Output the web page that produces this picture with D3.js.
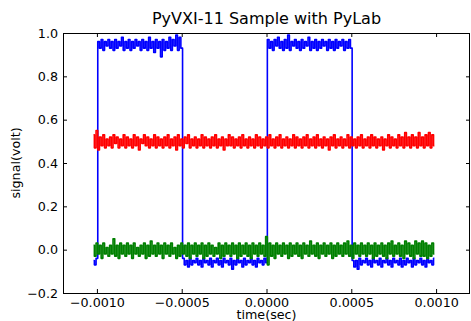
<!DOCTYPE html>
<html>
<head>
<meta charset="utf-8">
<script src="https://cdn.jsdelivr.net/npm/d3@7"></script>
<style>
  html, body { margin: 0; padding: 0; background: #fff; }
  svg { display: block; font-family: 'DejaVu Sans', sans-serif; }
</style>
</head>
<body>
<svg id="chart"></svg>
<script>
// scope record: first sample time and sample interval (sec)
const t0 = -0.00102;
const dt = 0.00001;

const xTicks = [-0.001, -0.0005, 0, 0.0005, 0.001];
const yTicks = [-0.2, 0, 0.2, 0.4, 0.6, 0.8, 1.0];

// channel 1: square wave
const blue = [
  -.05,-.07,-.04,
  .96,.93,.97,.92,.96,.94,.97,.93,.96,.92,
  .97,.93,.96,.94,.98,.92,.96,.93,.97,.92,
  .96,.93,.97,.94,.96,.92,.97,.93,.96,.92,
  .98,.93,.96,.91,.97,.93,.96,.89,.97,.92,
  .96,.93,.98,.92,.97,.94,.99,.92,.98,.93,
  -.04,-.07,-.05,-.08,-.04,-.07,-.05,-.06,-.04,-.07,
  -.05,-.08,-.04,-.06,-.05,-.07,-.04,-.08,-.05,-.06,
  -.04,-.07,-.05,-.08,-.04,-.06,-.05,-.07,-.04,-.09,
  -.05,-.07,-.04,-.06,-.05,-.08,-.04,-.07,-.05,-.06,
  -.04,-.07,-.05,-.08,-.04,-.06,-.05,-.07,-.04,-.06,
  .97,.93,.96,.92,.97,.94,.98,.93,.96,.92,
  .97,.93,.99,.92,.96,.94,.97,.93,.96,.92,
  .97,.93,.96,.94,.98,.92,.96,.93,.97,.92,
  .96,.93,.97,.94,.96,.92,.97,.93,.96,.92,
  .97,.93,.96,.94,.97,.92,.96,.93,.97,.93,
  -.05,-.08,-.05,-.09,-.04,-.07,-.05,-.06,-.04,-.07,
  -.05,-.08,-.04,-.06,-.05,-.07,-.04,-.08,-.05,-.06,
  -.04,-.07,-.05,-.08,-.04,-.06,-.05,-.07,-.04,-.08,
  -.05,-.07,-.04,-.06,-.05,-.08,-.04,-.07,-.05,-.06,
  -.04,-.07,-.05,-.08,-.04,-.06,-.05,-.07,-.04
];

// channel 2: dc level ~0.5 V
const red = [
  .53,.47,.55,.46,.52,.48,.53,.47,.51,.48,.52,.47,.53,.49,.52,.47,.51,.48,.53,.47,
  .52,.48,.51,.47,.53,.48,.52,.46,.51,.49,.53,.48,.52,.47,.51,.48,.53,.47,.52,.48,
  .51,.47,.52,.48,.53,.47,.51,.48,.52,.46,.53,.48,.51,.47,.52,.49,.53,.47,.51,.48,
  .52,.47,.51,.48,.53,.47,.52,.48,.51,.47,.52,.48,.53,.47,.51,.48,.52,.46,.51,.48,
  .53,.48,.52,.47,.51,.48,.52,.47,.53,.48,.51,.47,.52,.48,.51,.47,.53,.48,.52,.47,
  .51,.48,.52,.47,.53,.48,.51,.47,.52,.48,.53,.47,.51,.48,.52,.47,.51,.48,.53,.47,
  .52,.48,.51,.47,.52,.48,.53,.47,.51,.48,.52,.47,.53,.48,.51,.47,.52,.48,.51,.46,
  .52,.48,.53,.47,.51,.48,.52,.47,.51,.48,.53,.47,.52,.48,.51,.47,.52,.48,.53,.47,
  .51,.48,.52,.47,.53,.48,.52,.47,.51,.48,.52,.46,.51,.48,.53,.47,.52,.48,.51,.47,
  .53,.48,.52,.47,.54,.48,.52,.47,.53,.48,.52,.47,.54,.48,.52,.47,.53,.48,.54,.47,
  .53,.48
];

// channel 3: ground ~0 V
const green = [
  .02,-.03,.03,-.02,.02,-.04,.03,-.02,.01,-.03,.02,-.02,.05,-.03,.02,-.04,.03,-.02,.02,-.03,
  .03,-.02,.02,-.04,.03,-.02,.01,-.03,.02,-.02,.03,-.04,.02,-.03,.04,-.02,.02,-.03,.03,-.02,
  .02,-.04,.03,-.02,.02,-.03,.03,-.02,.01,-.04,.02,-.03,.03,-.02,.02,-.03,.03,-.04,.02,-.02,
  .03,-.03,.02,-.02,.03,-.04,.02,-.03,.03,-.02,.02,-.03,.01,-.02,.03,-.04,.02,-.03,.03,-.02,
  .02,-.03,.03,-.02,.02,-.04,.03,-.03,.02,-.02,.03,-.03,.02,-.04,.03,-.02,.02,-.03,.03,-.02,
  .02,-.03,.06,-.07,.03,-.03,.02,-.04,.03,-.02,.02,-.03,.03,-.02,.02,-.04,.03,-.03,.02,-.02,
  .03,-.03,.02,-.04,.03,-.02,.02,-.03,.04,-.02,.02,-.03,.03,-.04,.02,-.02,.03,-.03,.02,-.02,
  .03,-.04,.02,-.03,.03,-.02,.02,-.03,.03,-.02,.04,-.03,.02,-.04,.03,-.02,.02,-.03,.03,-.02,
  .02,-.03,.03,-.02,.02,-.04,.03,-.03,.02,-.02,.03,-.03,.02,-.04,.03,-.02,.04,-.03,.02,-.02,
  .03,-.03,.02,-.04,.04,-.02,.03,-.03,.02,-.04,.04,-.02,.03,-.03,.04,-.03,.03,-.04,.02,-.03,
  .03,-.02
];

const config = {
  width: 471,
  height: 321,
  marginTop: 33,
  marginRight: 1,
  marginBottom: 28,
  marginLeft: 63,
  fontSize: 12.7,
  strokeWidth: 1.6,
};

const { width, height, marginTop, marginRight, marginBottom, marginLeft } = config;
const svg = d3.select('#chart').attr('width', width).attr('height', height);

const x = d3.scaleLinear([-0.0012, 0.0012], [marginLeft, width - marginRight]);
const y = d3.scaleLinear([-0.2, 1.0], [height - marginBottom, marginTop]);
const fmt = (n, d) => (n < -1e-12 ? '\u2212' : '') + Math.abs(n).toFixed(d);

// step curve keeps the dense noise looking like a solid trace and the edges vertical
const line = d3.line().curve(d3.curveStep).x((_, i) => x(t0 + i * dt)).y((v) => y(v));
const plot = svg.append('g');
[[blue, '#0000ff'], [red, '#ff0000'], [green, '#008000']].forEach(([series, color]) => {
  plot.append('path')
    .attr('fill', 'none')
    .attr('stroke', color)
    .attr('stroke-width', config.strokeWidth)
    .attr('stroke-linejoin', 'round')
    .attr('d', line(series));
});

// axes, ticks pointing inward on all four sides
const styleAxis = (g) => {
  g.select('.domain').remove();
  g.selectAll('.tick line').attr('stroke', '#000');
  g.selectAll('.tick text').attr('fill', '#000').style('font-size', config.fontSize + 'px').style('font-family', 'DejaVu Sans');
};
svg.append('g')
  .attr('transform', `translate(0,${height - marginBottom})`)
  .call(d3.axisBottom(x).tickValues(xTicks).tickSizeInner(-4).tickSizeOuter(0).tickPadding(5).tickFormat((d) => fmt(d, 4)))
  .call(styleAxis);
svg.append('g')
  .attr('transform', `translate(0,${marginTop})`)
  .call(d3.axisTop(x).tickValues(xTicks).tickSizeInner(-4).tickSizeOuter(0).tickFormat(''))
  .call(styleAxis);
svg.append('g')
  .attr('transform', `translate(${marginLeft},0)`)
  .call(d3.axisLeft(y).tickValues(yTicks).tickSizeInner(-4).tickSizeOuter(0).tickPadding(5).tickFormat((d) => fmt(d, 1)))
  .call(styleAxis);
svg.append('g')
  .attr('transform', `translate(${width - marginRight},0)`)
  .call(d3.axisRight(y).tickValues(yTicks).tickSizeInner(-4).tickSizeOuter(0).tickFormat(''))
  .call(styleAxis);

svg.append('rect')
  .attr('x', marginLeft + 0.5)
  .attr('y', marginTop + 0.5)
  .attr('width', width - marginLeft - marginRight - 1)
  .attr('height', height - marginTop - marginBottom)
  .attr('fill', 'none')
  .attr('stroke', '#000')
  .attr('stroke-width', 1);

// labels
svg.append('text')
  .attr('x', (marginLeft + width - marginRight) / 2)
  .attr('y', 24)
  .attr('text-anchor', 'middle')
  .style('font-size', '16px')
  .text('PyVXI-11 Sample with PyLab');
svg.append('text')
  .attr('x', (marginLeft + width - marginRight) / 2)
  .attr('y', 319)
  .attr('text-anchor', 'middle')
  .style('font-size', config.fontSize + 'px')
  .text('time(sec)');
svg.append('text')
  .attr('transform', `translate(20,${(marginTop + height - marginBottom) / 2}) rotate(-90)`)
  .attr('text-anchor', 'middle')
  .style('font-size', config.fontSize + 'px')
  .text('signal(volt)');
</script>
</body>
</html>
